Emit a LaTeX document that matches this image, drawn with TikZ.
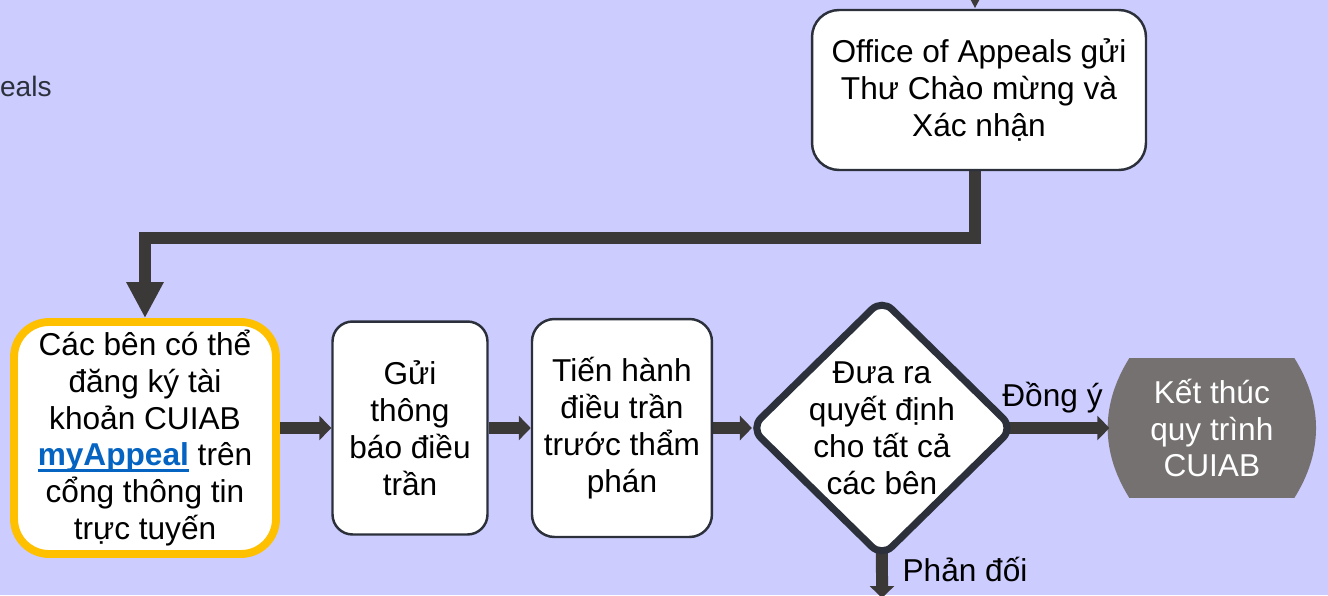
\documentclass[tikz,border=0pt]{standalone}
\usepackage{fontspec}
\setmainfont{Liberation Sans}
\usepackage{tikz}
\usetikzlibrary{positioning,shapes,arrows.meta,backgrounds}
\definecolor{bgcol}{HTML}{CCCCFF}
\definecolor{arrcol}{HTML}{3B3838}
\definecolor{bordcol}{HTML}{2B303B}
\definecolor{goldcol}{HTML}{FFC000}
\definecolor{termcol}{HTML}{767171}
\definecolor{linkcol}{HTML}{0563C1}
\newcommand{\linkline}[1]{\setbox0=\hbox{#1}\rlap{\rule[-3.5pt]{\wd0}{1.6pt}}\box0}
\tikzstyle{box}=[draw=bordcol, fill=white, line width=1.4pt, align=center, inner sep=0pt]
\tikzstyle{startbox}=[box, draw=goldcol, line width=4.5pt, rounded corners=0.7cm, minimum width=5.24cm, minimum height=4.64cm]
\tikzstyle{dec}=[diamond, draw=bordcol, fill=white, line width=4pt, rounded corners=8pt, minimum width=5.3cm, minimum height=5.2cm, inner sep=0pt]
\tikzstyle{term}=[text=white, align=center, inner sep=0pt, outer sep=0pt, minimum width=4.1cm, minimum height=2.8cm]
\tikzstyle{conn}=[draw=arrcol, line width=0.24cm]
\tikzset{smallhead/.style={-{Triangle[length=0.24cm,width=0.48cm]}},
         bighead/.style={-{Triangle[length=0.72cm,width=0.7cm]}}}

\begin{document}
\begin{tikzpicture}[x=0.02cm,y=-0.02cm,node distance=2cm,font=\fontsize{18}{21}\selectfont]
\useasboundingbox (0,0) rectangle (1328,595);

\node[anchor=east, inner sep=0pt, text=bordcol, font=\fontsize{16}{19}\selectfont] at (52,86) (cut) {eals};

\node[box, rounded corners=0.54cm, minimum width=6.68cm, minimum height=3.2cm] at (979,90) (office) {Office of Appeals gửi\\Thư Chào mừng và\\Xác nhận};

\node[startbox] at (145,438) (start) {Các bên có thể\\đăng ký tài\\khoản CUIAB\\{\color{linkcol}\linkline{\textbf{myAppeal}}} trên\\cổng thông tin\\trực tuyến};
\node[box, rounded corners=0.4cm, minimum width=3.1cm, minimum height=4.26cm] at (410,428) (notice) {Gửi\\thông\\báo điều\\trần};
\node[box, rounded corners=0.45cm, minimum width=3.6cm, minimum height=4.36cm, right of=notice, node distance=4.24cm] (hearing) {Tiến hành\\điều trần\\trước thẩm\\phán};

\node[dec, right of=hearing, node distance=5.2cm, label={[align=center]center:Đưa ra\\quyết định\\cho tất cả\\các bên}] (decide) {};
\node[term, right of=decide, node distance=6.6cm] (end) {Kết thúc\\quy trình\\CUIAB};

\coordinate (topin) at (975,-45);
\coordinate (bend) at (975,238);
\coordinate (downout) at (882,598);

% connectors and end shape behind the boxes
\begin{scope}[on background layer]
\fill[bgcol] (0,0) rectangle (1328,595);
\fill[termcol] ([xshift=0.4cm]end.north west) -- ([xshift=-0.4cm]end.north east)
  to[bend left=32] ([xshift=-0.4cm]end.south east) -- ([xshift=0.4cm]end.south west)
  to[bend left=32] cycle;
\draw[conn, bighead] (topin) -- (topin |- office.north);
\draw[conn, bighead] (bend |- office.south) -- (bend) -| (start.north);
\draw[conn, smallhead] (start.east |- notice.west) -- (notice.west);
\draw[conn, smallhead] (notice.east) -- (hearing.west);
\draw[conn, smallhead] (hearing.east) -- ([xshift=0.12cm]decide.west);
\draw[conn, smallhead] (decide.center) -- node[above=2pt, pos=0.75] (yes) {Đồng ý} (end.west);
\draw[conn, smallhead] (decide.center) -- node[right=5pt, pos=0.83] (no) {Phản đối} (downout);
\end{scope}
\end{tikzpicture}
\end{document}
